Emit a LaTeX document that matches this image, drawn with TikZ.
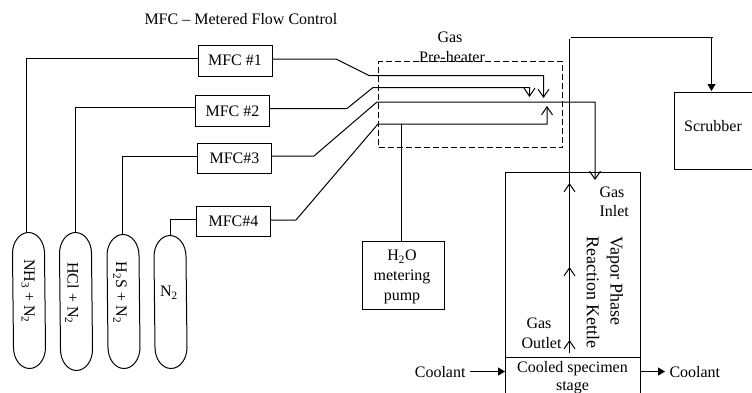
\documentclass[tikz,border=0pt]{standalone}
\usepackage{fontspec}
\setmainfont{Liberation Serif}
\usetikzlibrary{arrows.meta}
\newcommand{\pillshape}[1]{\draw ([yshift=-21pt]#1.north west) arc[start angle=180,end angle=0,x radius=16pt,y radius=21pt] -- ([yshift=21pt]#1.south east) arc[start angle=0,end angle=-180,x radius=16pt,y radius=21pt] -- cycle;}
\tikzset{
  txt/.style={font=\fontsize{16}{20}\selectfont,inner sep=0pt,text=black},
  bigtxt/.style={font=\fontsize{18}{20}\selectfont,inner sep=0pt,text=black,rotate=-90,anchor=west},
  mfc/.style={draw,txt,minimum width=74pt,minimum height=31pt,anchor=north west},
  capsule/.style={minimum width=32pt,minimum height=135pt,inner sep=0pt},
  vlabel/.style={txt,rotate=-90},
  openarr/.style={-{Straight Barb[length=8pt,width=11pt,line width=1pt]}},
  solidarr/.style={-{Triangle[length=7pt,width=8pt]}},
  heater/.style={draw,dash pattern=on 6pt off 3pt}
}
\begin{document}
\begin{tikzpicture}[x=1pt,y=-1pt,line width=1pt]
\clip (0,0) rectangle (752,392);
% boxes
\node[mfc] (m1) at (197.5,44.5) {MFC \#1};
\node[mfc] (m2) at (195,95) {MFC \#2};
\node[mfc,minimum height=30pt] (m3) at (197,143) {MFC\#3};
\node[mfc,minimum height=30pt] (m4) at (196,206) {MFC\#4};
% capsules
\node[capsule] (c1) at (29,300.5) {};
\node[capsule,minimum height=137pt] (c2) at (76,301.5) {};
\node[capsule,minimum height=133pt] (c3) at (123.5,301.5) {};
\node[capsule,minimum height=132pt] (c4) at (170.5,302) {};
\pillshape{c1}\pillshape{c2}\pillshape{c3}\pillshape{c4}
\node[vlabel] (t1) at (28,291) {NH\textsubscript{3} + N\textsubscript{2}};
\node[vlabel] (t2) at (72,293) {HCl + N\textsubscript{2}};
\node[vlabel] (t3) at (120,292.5) {H\textsubscript{2}S + N\textsubscript{2}};
\node[txt] (t4) at (169,293) {N\textsubscript{2}};
% header
\node[txt,anchor=west] (hdr) at (144,19) {MFC -- Metered Flow Control};
% heater
\node[heater,anchor=north west,minimum width=184pt,minimum height=86pt,inner sep=0pt] (heat) at (378,61) {};
\node[txt] (g1) at (450,37) {Gas};
\node[txt] (g2) at (452,57) {Pre-heater};
% pump
\node[draw,anchor=north west,minimum width=82pt,minimum height=68pt,inner sep=0pt] (pump) at (361.5,241) {};
\node[txt,align=center] (pt) at (402,277) {H\textsubscript{2}O\\metering\\pump};
% scrubber
\node[draw,anchor=north west,minimum width=90pt,minimum height=77pt,inner sep=0pt] (scr) at (673.5,91.5) {};
\node[txt] (st) at (713,126) {Scrubber};
% kettle
\node[draw,anchor=north west,minimum width=135pt,minimum height=185pt,inner sep=0pt] (ket) at (505,172) {};
\node[draw,anchor=north west,minimum width=135pt,minimum height=45pt,inner sep=0pt] (stg) at (505,356.5) {};
\node[txt] (stt) at (572.5,369) {Cooled specimen};
\node[txt] (stt2) at (572.5,388) {stage};
\node[txt,anchor=west] (in1) at (599,192) {Gas};
\node[txt,anchor=west] (in2) at (599,211) {Inlet};
\node[txt] (o1) at (539,323) {Gas};
\node[txt] (o2) at (541.5,343) {Outlet};
\node[bigtxt] (v1) at (615,236) {Vapor Phase};
\node[bigtxt] (v2) at (593,236) {Reaction Kettle};
\node[txt,anchor=east] (cl) at (466,372) {Coolant};
\node[txt,anchor=west] (cr) at (669,372) {Coolant};
% coordinates
\coordinate (a1) at (26.5,233);
\coordinate (a1b) at (26.5,58.5);
\coordinate (a2) at (75,233);
\coordinate (a2b) at (75,107);
\coordinate (a3) at (122,235);
\coordinate (a3b) at (122,156);
\coordinate (a4) at (170,236);
\coordinate (a4b) at (170,219);
\coordinate (r1s) at (273,59);
\coordinate (r1a) at (336,59);
\coordinate (r1b) at (369,75.5);
\coordinate (r1c) at (543.5,75.5);
\coordinate (r1d) at (543.5,98);
\coordinate (r2a) at (347,108.5);
\coordinate (r2b) at (373,87.5);
\coordinate (r2c) at (529.5,87.5);
\coordinate (r2d) at (529.5,97);
\coordinate (r3a) at (314,156);
\coordinate (r3b) at (377,102);
\coordinate (r3c) at (595,102);
\coordinate (r3d) at (595,180);
\coordinate (r4a) at (296,220);
\coordinate (r4b) at (378,124);
\coordinate (r4c) at (547,124);
\coordinate (r4d) at (547,106);
\coordinate (pj) at (401,124);
\coordinate (pb) at (401,241);
\coordinate (o0) at (569.5,353);
\coordinate (oa) at (569.5,39);
\coordinate (ob) at (571,37.5);
\coordinate (oc) at (711.5,37.5);
\coordinate (od) at (713,37.5);
\coordinate (sct) at (711.5,91);
\coordinate (kt1) at (569.5,183);
\coordinate (kt2) at (569.5,267);
\coordinate (kt3) at (569.5,340);
\coordinate (cl0) at (470,371.5);
\coordinate (cl1) at (505,371.5);
\coordinate (cr0) at (640,371.5);
\coordinate (cr1) at (665,371.5);
% connectors
\draw (m1.west |- a1b) -- (a1b) -- (a1);
\draw (m2.west |- a2b) -- (a2b) -- (a2);
\draw (m3.west |- a3b) -- (a3b) -- (a3);
\draw (m4.west |- a4b) -- (a4b) -- (a4);
\draw[openarr] (r1s) -- (r1a) -- (r1b) -- (r1c) -- (r1d);
\draw[openarr] (m2.east |- r2a) -- (r2a) -- (r2b) -- (r2c) -- (r2d);
\draw[openarr] (m3.east |- r3a) -- (r3a) -- (r3b) -- (r3c) -- (r3d);
\draw[openarr] (m4.east |- r4a) -- (r4a) -- (r4b) -- (r4c) -- (r4d);
\draw (pj) -- (pb);
\draw (o0) -- (oa);
\draw (ob) -- (od);
\draw[solidarr] (oc) -- (sct);
\draw[openarr] (o0) -- (kt3);
\draw[openarr] (o0) -- (kt2);
\draw[openarr] (o0) -- (kt1);
\draw[solidarr] (cl0) -- (cl1);
\draw[solidarr] (cr0) -- (cr1);
\end{tikzpicture}
\end{document}
